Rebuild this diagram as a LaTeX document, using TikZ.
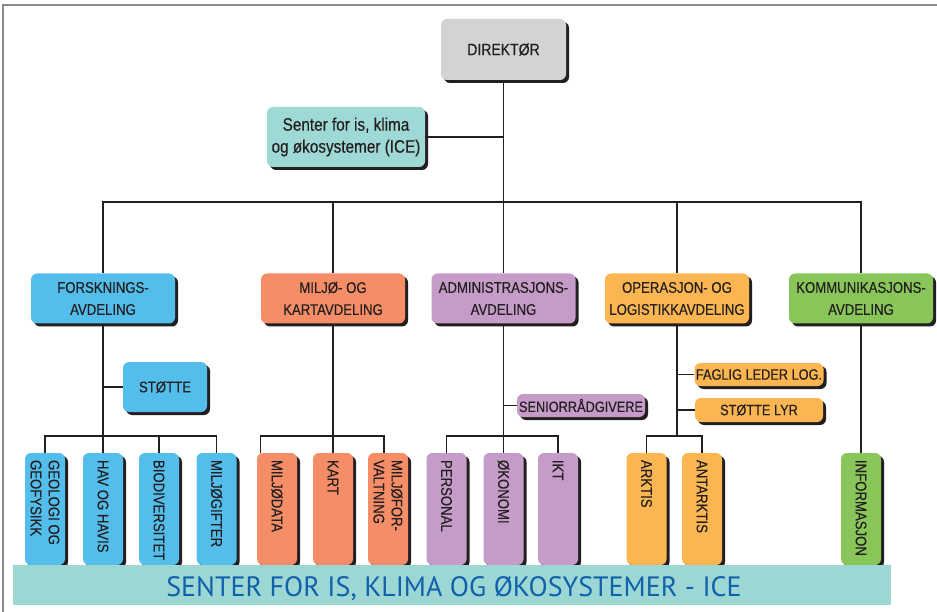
\documentclass[tikz,border=0pt]{standalone}
\usepackage{fontspec}
\setmainfont{Liberation Sans}
\newfontfamily\boxfont[FakeStretch=0.85,FakeBold=0.3]{Liberation Sans}
\newfontfamily\banfont{PT Sans}
\usetikzlibrary{shadows}
\definecolor{cgrey}{HTML}{D1D3D4}
\definecolor{cice}{HTML}{9ED9D5}
\definecolor{cblue}{HTML}{53BDEB}
\definecolor{corange}{HTML}{F58E66}
\definecolor{cpurple}{HTML}{C59BC8}
\definecolor{cyellow}{HTML}{FBB651}
\definecolor{cgreen}{HTML}{88C659}
\definecolor{cban}{HTML}{9DD7D4}
\definecolor{cbantext}{HTML}{1060AC}
\definecolor{cline}{HTML}{231F20}
\definecolor{cframe}{HTML}{8A8A8A}
\begin{document}
\begin{tikzpicture}[x=1pt,y=-1pt,
  box/.style={rounded corners=6pt, inner sep=0pt, align=center,
    font=\boxfont\fontsize{15.5}{22}\selectfont, text=cline,
    drop shadow={shadow xshift=3pt, shadow yshift=-3pt, fill=cline, opacity=1}},
  dept/.style={box, minimum width=144pt, minimum height=50pt},
  subbox/.style={box, minimum width=40pt, minimum height=112pt},
  small/.style={box, minimum height=23pt, font=\boxfont\fontsize{15}{18}\selectfont},
  vtext/.style={rotate=-90, anchor=west, align=left, inner sep=0pt,
    font=\boxfont\fontsize{15.5}{18}\selectfont, text=cline},
  conn/.style={draw=cline, line width=1.3pt}]
\useasboundingbox (0,0) rectangle (937,612);
\draw[cframe, line width=1.5pt] (3,612) -- (3,5) -- (937,5);

% top
\node[box, fill=cgrey, minimum width=125pt, minimum height=61pt,
  font=\boxfont\fontsize{16.5}{22}\selectfont] (dir) at (503.5,49.5) {DIREKTØR};
\node[box, fill=cice, minimum width=158pt, minimum height=60pt,
  font=\boxfont\fontsize{18}{22}\selectfont] (ice) at (346,137) {Senter for is, klima\\og økosystemer (ICE)};

% departments
\node[dept, fill=cblue]   (fors) at (103,298.5)   {FORSKNINGS-\\AVDELING};
\node[dept, fill=corange] (milj) at (333,298.5)   {MILJØ- OG\\KARTAVDELING};
\node[dept, fill=cpurple] (adm)  at (503.5,298.5) {ADMINISTRASJONS-\\AVDELING};
\node[dept, fill=cyellow] (ops)  at (677,298.5)   {OPERASJON- OG\\LOGISTIKKAVDELING};
\node[dept, fill=cgreen]  (komm) at (861,298.5)   {KOMMUNIKASJONS-\\AVDELING};

% staff boxes
\node[box, fill=cblue, minimum width=84pt, minimum height=50pt] (stotte) at (165,387) {STØTTE};
\node[small, fill=cpurple, minimum width=128pt] (senior) at (581,405.5) {SENIORRÅDGIVERE};
\node[small, fill=cyellow, minimum width=129pt] (faglig) at (759,374.5) {FAGLIG LEDER LOG.};
\node[small, fill=cyellow, minimum width=128pt, minimum height=24pt] (stlyr) at (759,410) {STØTTE LYR};

% connectors top
\coordinate (bus) at (0,202);
\coordinate (bus2) at (0,436);
\draw[conn] (ice.east) -- (ice.east -| dir.south);
\draw[conn] (dir.south) -- (adm.north);
\draw[conn] (fors.north) -- (fors.north |- bus) -- (komm.north |- bus) -- (komm.north);
\draw[conn] (milj.north) -- (milj.north |- bus);
\draw[conn] (ops.north) -- (ops.north |- bus);

% bottom units
\node[subbox, fill=cblue] (s1) at (45,509) {};
\node[subbox, fill=cblue] (s2) at (103,509) {};
\node[subbox, fill=cblue] (s3) at (159,509) {};
\node[subbox, fill=cblue] (s4) at (216.5,509) {};
\node[subbox, fill=corange] (m1) at (277,509) {};
\node[subbox, fill=corange] (m2) at (333,509) {};
\node[subbox, fill=corange] (m3) at (388,509) {};
\node[subbox, fill=cpurple] (a1) at (446.5,509) {};
\node[subbox, fill=cpurple] (a2) at (503.5,509) {};
\node[subbox, fill=cpurple] (a3) at (558,509) {};
\node[subbox, fill=cyellow] (o1) at (646.5,509) {};
\node[subbox, fill=cyellow] (o2) at (702,509) {};
\node[subbox, fill=cgreen] (info) at (861,509) {};

\node[vtext] (t1) at ([yshift=-7pt]s1.north) {GEOLOGI OG\\GEOFYSIKK};
\node[vtext] (t2) at ([yshift=-7pt]s2.north) {HAV OG HAVIS};
\node[vtext] (t3) at ([yshift=-7pt]s3.north) {BIODIVERSITET};
\node[vtext] (t4) at ([yshift=-7pt]s4.north) {MILJØGIFTER};
\node[vtext] (t5) at ([yshift=-7pt]m1.north) {MILJØDATA};
\node[vtext] (t6) at ([yshift=-7pt]m2.north) {KART};
\node[vtext] (t7) at ([yshift=-7pt]m3.north) {MILJØFOR-\\VALTNING};
\node[vtext] (t8) at ([yshift=-7pt]a1.north) {PERSONAL};
\node[vtext] (t9) at ([yshift=-7pt]a2.north) {ØKONOMI};
\node[vtext] (t10) at ([yshift=-7pt]a3.north) {IKT};
\node[vtext] (t11) at ([yshift=-7pt]o1.north) {ARKTIS};
\node[vtext] (t12) at ([yshift=-7pt]o2.north) {ANTARKTIS};
\node[vtext] (t13) at ([yshift=-7pt]info.north) {INFORMASJON};

% lower connectors
\draw[conn] (fors.south) -- (s2.north);
\draw[conn] (stotte.west) -- (stotte.west -| fors.south);
\draw[conn] (s1.north) -- (s1.north |- bus2) -- (s4.north |- bus2) -- (s4.north);
\draw[conn] (s3.north) -- (s3.north |- bus2);

\draw[conn] (milj.south) -- (m2.north);
\draw[conn] ([xshift=4pt]m1.north west) -- ([xshift=4pt]m1.north west |- bus2) -- ([xshift=-4pt]m3.north |- bus2) -- ([xshift=-4pt]m3.north);

\draw[conn] (adm.south) -- (a2.north);
\draw[conn] (senior.west) -- (senior.west -| adm.south);
\draw[conn] (a1.north) -- (a1.north |- bus2) -- (a3.north |- bus2) -- (a3.north);

\draw[conn] (ops.south) -- (ops.south |- bus2);
\draw[conn] (faglig.west) -- (faglig.west -| ops.south);
\draw[conn] (stlyr.west) -- (stlyr.west -| ops.south);
\draw[conn] (o1.north) -- (o1.north |- bus2) -- (o2.north |- bus2) -- (o2.north);

\draw[conn] (komm.south) -- (info.north);

% banner
\node[fill=cban, minimum width=878pt, minimum height=40pt, inner sep=0pt,
  text=cbantext] (ban) at (452,585) {};
\node[inner sep=0pt, font=\banfont\fontsize{28}{28}\selectfont, text=cbantext,
  anchor=base] (bantext) at (454,596) {SENTER FOR IS, KLIMA OG ØKOSYSTEMER - ICE};
\end{tikzpicture}
\end{document}
